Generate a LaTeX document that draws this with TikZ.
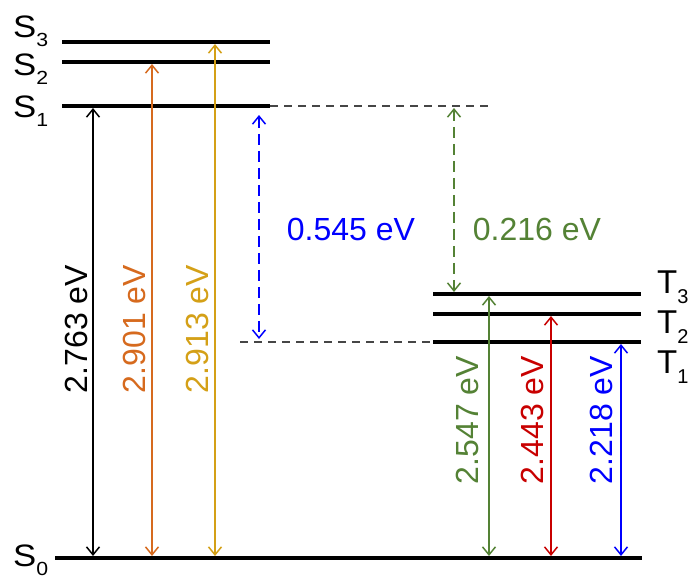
\documentclass[tikz,border=0pt]{standalone}
\usepackage{fontspec}
\setmainfont{Liberation Sans}
\usetikzlibrary{arrows.meta}
\definecolor{cOrange}{RGB}{214,106,30}
\definecolor{cGold}{RGB}{212,160,23}
\definecolor{cGreen}{RGB}{84,130,53}
\definecolor{cRed}{RGB}{200,0,0}
\definecolor{cBlue}{RGB}{0,0,255}
\definecolor{cGray}{RGB}{70,70,70}
\newcommand{\slvl}[1]{\scalebox{1.12}[1]{S\raisebox{-9pt}{\fontsize{19}{19}\selectfont #1}}}
\newcommand{\tlvl}[1]{T\raisebox{-10pt}{\fontsize{20}{20}\selectfont #1}}
\begin{document}
\begin{tikzpicture}[x=1pt,y=-1pt,
  lvl/.style={line width=4.5pt,black},
  trans/.style={line width=1.5pt,{Straight Barb[length=8pt,width=13pt]}-{Straight Barb[length=8pt,width=13pt]}},
  gapline/.style={line width=1.2pt,cGray,dash pattern=on 8pt off 6pt},
  gaparrow/.style={trans,dash pattern=on 11pt off 6pt},
  slab/.style={anchor=base west,inner sep=0pt,font=\fontsize{31}{31}\selectfont},
  tlab/.style={anchor=base west,inner sep=0pt,font=\fontsize{33}{33}\selectfont},
  evlab/.style={inner sep=0pt,font=\fontsize{32}{32}\selectfont},
  evrot/.style={evlab,rotate=90}]
\useasboundingbox (0,0) rectangle (693,581);
% level end points
\coordinate (S3a) at (62,42);  \coordinate (S3b) at (270,42);
\coordinate (S2a) at (62,62);  \coordinate (S2b) at (270,62);
\coordinate (S1a) at (62,106); \coordinate (S1b) at (270,106);
\coordinate (S0a) at (55,558); \coordinate (S0b) at (642,558);
\coordinate (T3a) at (433,294); \coordinate (T3b) at (641,294);
\coordinate (T2a) at (433,314); \coordinate (T2b) at (641,314);
\coordinate (T1a) at (433,342); \coordinate (T1b) at (641,342);
\coordinate (S1d) at (490,106);
\coordinate (T1d) at (240,342);
% dashed guides
\draw[gapline] (S1b) -- (S1d);
\draw[gapline] (T1d) -- (T1a);
% levels
\draw[lvl] (S3a) -- (S3b);
\draw[lvl] (S2a) -- (S2b);
\draw[lvl] (S1a) -- (S1b);
\draw[lvl] (S0a) -- (S0b);
\draw[lvl] (T3a) -- (T3b);
\draw[lvl] (T2a) -- (T2b);
\draw[lvl] (T1a) -- (T1b);
% level labels
\node[slab] (lS3) at (13,37) {\slvl{3}};
\node[slab] (lS2) at (13,75) {\slvl{2}};
\node[slab] (lS1) at (13,117) {\slvl{1}};
\node[slab] (lS0) at (13,566) {\slvl{0}};
\node[tlab] (lT3) at (657,293) {\tlvl{3}};
\node[tlab] (lT2) at (657,333) {\tlvl{2}};
\node[tlab] (lT1) at (657,373) {\tlvl{1}};
% transition arrow ends
\coordinate (bkT) at (93,108);  \coordinate (bkB) at (93,556);
\coordinate (orT) at (152,64);  \coordinate (orB) at (152,556);
\coordinate (goT) at (215,44);  \coordinate (goB) at (215,556);
\coordinate (grT) at (489,296); \coordinate (grB) at (489,556);
\coordinate (rdT) at (551,316); \coordinate (rdB) at (551,556);
\coordinate (buT) at (621,344); \coordinate (buB) at (621,556);
\coordinate (dbT) at (259,115); \coordinate (dbB) at (259,339);
\coordinate (dgT) at (454,108); \coordinate (dgB) at (454,292);
% transitions
\draw[trans,black] (bkT) -- (bkB);
\draw[trans,cOrange] (orT) -- (orB);
\draw[trans,cGold] (goT) -- (goB);
\draw[trans,cGreen] (grT) -- (grB);
\draw[trans,cRed] (rdT) -- (rdB);
\draw[trans,cBlue] (buT) -- (buB);
\draw[gaparrow,cBlue] (dbT) -- (dbB);
\draw[gaparrow,cGreen] (dgT) -- (dgB);
% energy labels
\node[evrot,black] (e1) at (76,329) {2.763 eV};
\node[evrot,cOrange] (e2) at (134,329) {2.901 eV};
\node[evrot,cGold] (e3) at (197,329) {2.913 eV};
\node[evrot,cGreen] (e4) at (467,420) {2.547 eV};
\node[evrot,cRed] (e5) at (532,420) {2.443 eV};
\node[evrot,cBlue] (e6) at (601,420) {2.218 eV};
\node[evlab,cBlue] (e7) at (351,229) {0.545 eV};
\node[evlab,cGreen] (e8) at (537,229) {0.216 eV};
\end{tikzpicture}
\end{document}
